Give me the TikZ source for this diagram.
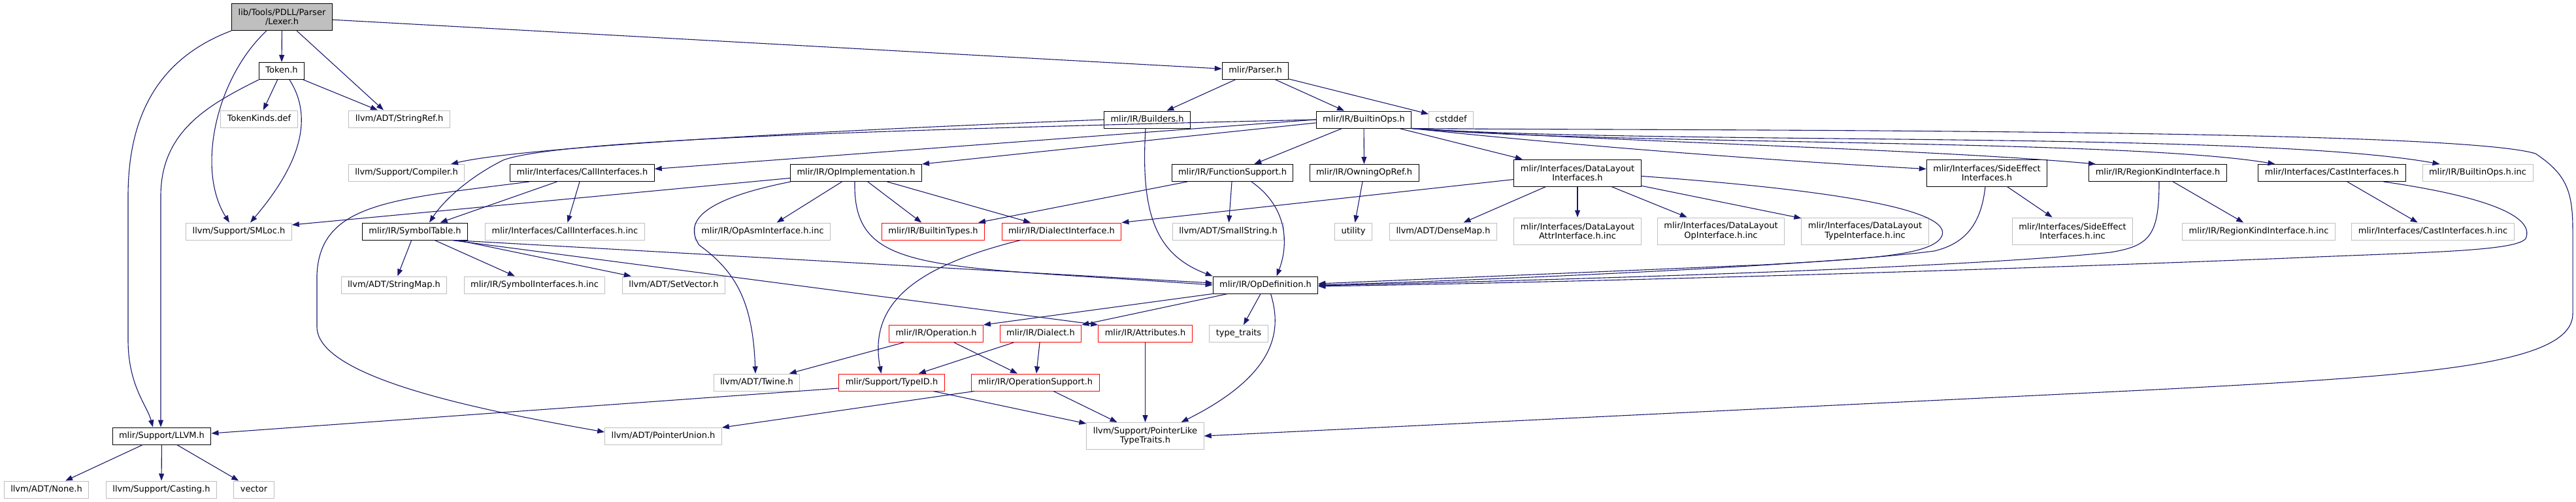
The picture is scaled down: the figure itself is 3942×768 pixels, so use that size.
\documentclass[tikz,border=0pt]{standalone}
\usepackage{fontspec}
\setmainfont{DejaVu Sans}
\usetikzlibrary{arrows.meta}
\definecolor{edgeblue}{HTML}{191970}
\definecolor{grey75}{HTML}{BFBFBF}
\newcommand{\doxfont}{\fontsize{13}{14.5}\selectfont}
\begin{document}
\begin{tikzpicture}[x=1pt,y=-1pt,>={Triangle[length=11pt,width=8pt]},
  box/.style={draw,rectangle,font=\doxfont,inner xsep=10pt,inner ysep=0pt,minimum height=26pt,text height=9.5pt,text depth=3pt,line width=1pt},
  docbox/.style={box,draw=black},
  plainbox/.style={box,draw=grey75},
  trunc/.style={box,draw=red},
  twoline/.style={align=center,text height=,text depth=,minimum height=41pt},
  inc/.style={->,draw=edgeblue,fill=none,line width=1.1pt}]
  \useasboundingbox (0,0) rectangle (3942,768);
  \node[docbox,twoline,fill=grey75] (lexer) at (431.5,26) {lib/Tools/PDLL/Parser\\/Lexer.h};
  \node[docbox] (token) at (431,108.5) {Token.h};
  \node[plainbox] (tokenkinds) at (396.5,182) {TokenKinds.def};
  \node[plainbox] (stringref) at (611,182) {llvm/ADT/StringRef.h};
  \node[plainbox] (compiler) at (622,264.5) {llvm/Support/Compiler.h};
  \node[docbox] (callif) at (891,264.5) {mlir/Interfaces/CallInterfaces.h};
  \node[plainbox] (smloc) at (365.5,354) {llvm/Support/SMLoc.h};
  \node[docbox] (symtab) at (635,354) {mlir/IR/SymbolTable.h};
  \node[plainbox] (callinc) at (864.5,354) {mlir/Interfaces/CallInterfaces.h.inc};
  \node[plainbox] (stringmap) at (603,436) {llvm/ADT/StringMap.h};
  \node[plainbox] (symifinc) at (818,436) {mlir/IR/SymbolInterfaces.h.inc};
  \node[plainbox] (setvector) at (1031,436) {llvm/ADT/SetVector.h};
  \node[docbox] (llvmh) at (247.5,667) {mlir/Support/LLVM.h};
  \node[plainbox] (none) at (71,749) {llvm/ADT/None.h};
  \node[plainbox] (casting) at (247,749) {llvm/Support/Casting.h};
  \node[plainbox] (vector) at (388.5,749) {vector};
  \node[plainbox] (ptrunion) at (1015,667) {llvm/ADT/PointerUnion.h};
  \node[docbox] (parser) at (1921,108) {mlir/Parser.h};
  \node[docbox] (builders) at (1755.5,183) {mlir/IR/Builders.h};
  \node[docbox] (opimpl) at (1310,264.5) {mlir/IR/OpImplementation.h};
  \node[docbox] (funcsup) at (1886,264.5) {mlir/IR/FunctionSupport.h};
  \node[docbox] (builtinops) at (2087,183) {mlir/IR/BuiltinOps.h};
  \node[plainbox] (cstddef) at (2220.5,183) {cstddef};
  \node[docbox] (owning) at (2087.5,264.5) {mlir/IR/OwningOpRef.h};
  \node[docbox,twoline] (dlif) at (2414,264.5) {mlir/Interfaces/DataLayout\\Interfaces.h};
  \node[docbox,twoline] (seif) at (3040.5,264.5) {mlir/Interfaces/SideEffect\\Interfaces.h};
  \node[docbox] (regionkind) at (3302,264.5) {mlir/IR/RegionKindInterface.h};
  \node[docbox] (castif) at (3568.5,264.5) {mlir/Interfaces/CastInterfaces.h};
  \node[plainbox] (builtininc) at (3791.5,264.5) {mlir/IR/BuiltinOps.h.inc};
  \node[plainbox] (opasminc) at (1167,354) {mlir/IR/OpAsmInterface.h.inc};
  \node[trunc] (builtintypes) at (1428,354) {mlir/IR/BuiltinTypes.h};
  \node[trunc] (dialectif) at (1624.5,354) {mlir/IR/DialectInterface.h};
  \node[plainbox] (smallstring) at (1879.5,354) {llvm/ADT/SmallString.h};
  \node[docbox] (opdef) at (1936.5,436) {mlir/IR/OpDefinition.h};
  \node[trunc] (operation) at (1432.5,510.5) {mlir/IR/Operation.h};
  \node[trunc] (dialect) at (1592.5,510.5) {mlir/IR/Dialect.h};
  \node[trunc] (attributes) at (1752.5,510.5) {mlir/IR/Attributes.h};
  \node[plainbox] (typetraits) at (1895.5,510.5) {type\_traits};
  \node[plainbox] (utility) at (2071,354) {utility};
  \node[plainbox] (densemap) at (2208.5,354) {llvm/ADT/DenseMap.h};
  \node[plainbox,twoline] (dlattr) at (2414,353.5) {mlir/Interfaces/DataLayout\\AttrInterface.h.inc};
  \node[plainbox,twoline] (dlop) at (2633.5,353.5) {mlir/Interfaces/DataLayout\\OpInterface.h.inc};
  \node[plainbox,twoline] (dltype) at (2854,353.5) {mlir/Interfaces/DataLayout\\TypeInterface.h.inc};
  \node[plainbox,twoline] (seinc) at (3171.5,353.5) {mlir/Interfaces/SideEffect\\Interfaces.h.inc};
  \node[plainbox] (regioninc) at (3456.5,354) {mlir/IR/RegionKindInterface.h.inc};
  \node[plainbox] (castinc) at (3723,354) {mlir/Interfaces/CastInterfaces.h.inc};
  \node[plainbox] (twine) at (1158,585) {llvm/ADT/Twine.h};
  \node[trunc] (typeid) at (1364.5,585) {mlir/Support/TypeID.h};
  \node[trunc] (opsupport) at (1584.5,585) {mlir/IR/OperationSupport.h};
  \node[plainbox,twoline] (ptrlike) at (1752.5,667) {llvm/Support/PointerLike\\TypeTraits.h};
  \draw[inc] (lexer) -- (token);
  \draw[inc] ([xshift=22.5pt]lexer.south) -- ([xshift=-24pt]stringref.north);
  \draw[inc] (lexer) -- (parser);
  \draw[inc] ([xshift=-23.5pt]lexer.south) .. controls (330,120) and (300,260) .. ([xshift=-14.5pt]smloc.north);
  \draw[inc] (lexer.south west) .. controls (240,90) and (196,180) .. (196,300) -- (196,520) .. controls (196,590) and (225,620) .. ([xshift=-13.5pt]llvmh.north);
  \draw[inc] (token) -- (tokenkinds);
  \draw[inc] (token) -- (stringref);
  \draw[inc] ([xshift=12pt]token.south) .. controls (480,180) and (460,250) .. ([xshift=17.5pt]smloc.north);
  \draw[inc] (token.south west) .. controls (320,160) and (246,200) .. (246,300) -- ([xshift=-1.5pt]llvmh.north);
  \draw[inc] (parser) -- (builders);
  \draw[inc] (parser) -- (builtinops);
  \draw[inc] (parser) -- (cstddef);
  \draw[inc] (builders.west) .. controls (1250,200) and (800,225) .. ([xshift=68pt]compiler.north);
  \draw[inc] ([xshift=-2.5pt]builders.south) .. controls (1745,330) and (1770,390) .. (opdef.north west);
  \draw[inc] (builtinops.west) .. controls (1300,200) and (850,215) .. (770,245) .. controls (720,270) and (680,305) .. ([xshift=22pt]symtab.north);
  \draw[inc] (builtinops.west) -- ([yshift=6pt]callif.east);
  \draw[inc] ([yshift=-5pt]builtinops.west) -- (opimpl.north east);
  \draw[inc] (builtinops) -- (funcsup);
  \draw[inc] (builtinops) -- (owning);
  \draw[inc] (builtinops) -- (dlif);
  \draw[inc] (builtinops.south east) .. controls (2400,222) and (2700,245) .. ([yshift=6pt]seif.west);
  \draw[inc] (builtinops.south east) .. controls (2500,218) and (2950,228) .. ([xshift=-95pt]regionkind.north);
  \draw[inc] (builtinops.south east) .. controls (2450,222) and (3250,212) .. ([xshift=-87pt]castif.north);
  \draw[inc] (builtinops.south east) .. controls (2550,222) and (3450,200) .. ([xshift=-58pt]builtininc.north);
  \draw[inc] (builtinops.south east) .. controls (2500,200) and (3750,195) .. (3880,235) .. controls (3925,265) and (3937,290) .. (3937,350) -- (3937,480) .. controls (3937,560) and (3700,575) .. (3300,596) -- (ptrlike.east);
  \draw[inc] (callif) -- (symtab);
  \draw[inc] (callif) -- (callinc);
  \draw[inc] ([xshift=-81pt]callif.south) .. controls (600,305) and (490,310) .. (485,420) -- (485,500) .. controls (485,580) and (750,630) .. ([yshift=6pt]ptrunion.west);
  \draw[inc] (symtab) -- (stringmap);
  \draw[inc] (symtab) -- (symifinc);
  \draw[inc] (symtab) -- (setvector);
  \draw[inc] ([xshift=-22pt]symtab.south east) -- ([yshift=3pt]opdef.west);
  \draw[inc] ([xshift=-25pt]symtab.south east) -- (attributes.north west);
  \draw[inc] ([yshift=-8pt]opimpl.west) -- ([yshift=10pt]smloc.east);
  \draw[inc] (opimpl) -- (opasminc);
  \draw[inc] (opimpl) -- (builtintypes);
  \draw[inc] (opimpl) -- (dialectif);
  \draw[inc] ([xshift=-2pt]opimpl.south) .. controls (1305,420) and (1420,405) .. (opdef.west);
  \draw[inc] ([xshift=-100pt]opimpl.south) .. controls (1100,300) and (1040,330) .. (1070,375) .. controls (1125,415) and (1152,460) .. ([xshift=-2pt]twine.north);
  \draw[inc] (funcsup) -- (builtintypes);
  \draw[inc] (funcsup) -- (smallstring);
  \draw[inc] ([xshift=29pt]funcsup.south) .. controls (1975,320) and (1970,380) .. ([xshift=17pt]opdef.north);
  \draw[inc] ([yshift=-10pt]dlif.west) -- (dialectif.north east);
  \draw[inc] (dlif) -- (densemap);
  \draw[inc] (dlif) -- (dlattr);
  \draw[inc] (dlif) -- (dlop);
  \draw[inc] (dlif) -- (dltype);
  \draw[inc] ([yshift=-5pt]dlif.east) .. controls (2800,290) and (2985,320) .. (2972,360) .. controls (2960,392) and (2850,396) .. (2700,405) -- ([yshift=2pt]opdef.east);
  \draw[inc] (seif) -- (seinc);
  \draw[inc] ([xshift=-2.5pt]seif.south) .. controls (3032,340) and (3010,372) .. (2960,384) .. controls (2800,405) and (2300,428) .. (opdef.east);
  \draw[inc] (regionkind) -- (regioninc);
  \draw[inc] ([xshift=2pt]regionkind.south) .. controls (3304,360) and (3290,376) .. (3230,386) .. controls (3000,410) and (2400,428) .. ([yshift=-1pt]opdef.east);
  \draw[inc] (castif) -- (castinc);
  \draw[inc] ([xshift=79pt]castif.south) .. controls (3800,300) and (3880,330) .. (3865,365) .. controls (3850,385) and (3700,386) .. (3500,395) .. controls (3000,415) and (2400,432) .. ([yshift=-2pt]opdef.east);
  \draw[inc] (owning) -- (utility);
  \draw[inc] ([xshift=-63pt]dialectif.south) .. controls (1390,410) and (1330,470) .. ([xshift=-16pt]typeid.north);
  \draw[inc] (opdef.south west) -- (operation.north east);
  \draw[inc] ([xshift=23pt]opdef.south west) -- (dialect.north east);
  \draw[inc] (opdef) -- (typetraits);
  \draw[inc] ([xshift=8pt]opdef.south) .. controls (1960,500) and (1960,570) .. ([xshift=55pt]ptrlike.north);
  \draw[inc] (operation) -- (twine);
  \draw[inc] (operation) -- (opsupport);
  \draw[inc] (dialect) -- (typeid);
  \draw[inc] (dialect) -- (opsupport);
  \draw[inc] (attributes) -- (ptrlike);
  \draw[inc] ([yshift=-9pt]typeid.west) -- ([yshift=4pt]llvmh.east);
  \draw[inc] (typeid) -- (ptrlike);
  \draw[inc] (opsupport) -- (ptrunion);
  \draw[inc] (opsupport) -- (ptrlike);
  \draw[inc] (llvmh) -- (none);
  \draw[inc] (llvmh) -- (casting);
  \draw[inc] (llvmh) -- (vector);
\end{tikzpicture}
\end{document}
